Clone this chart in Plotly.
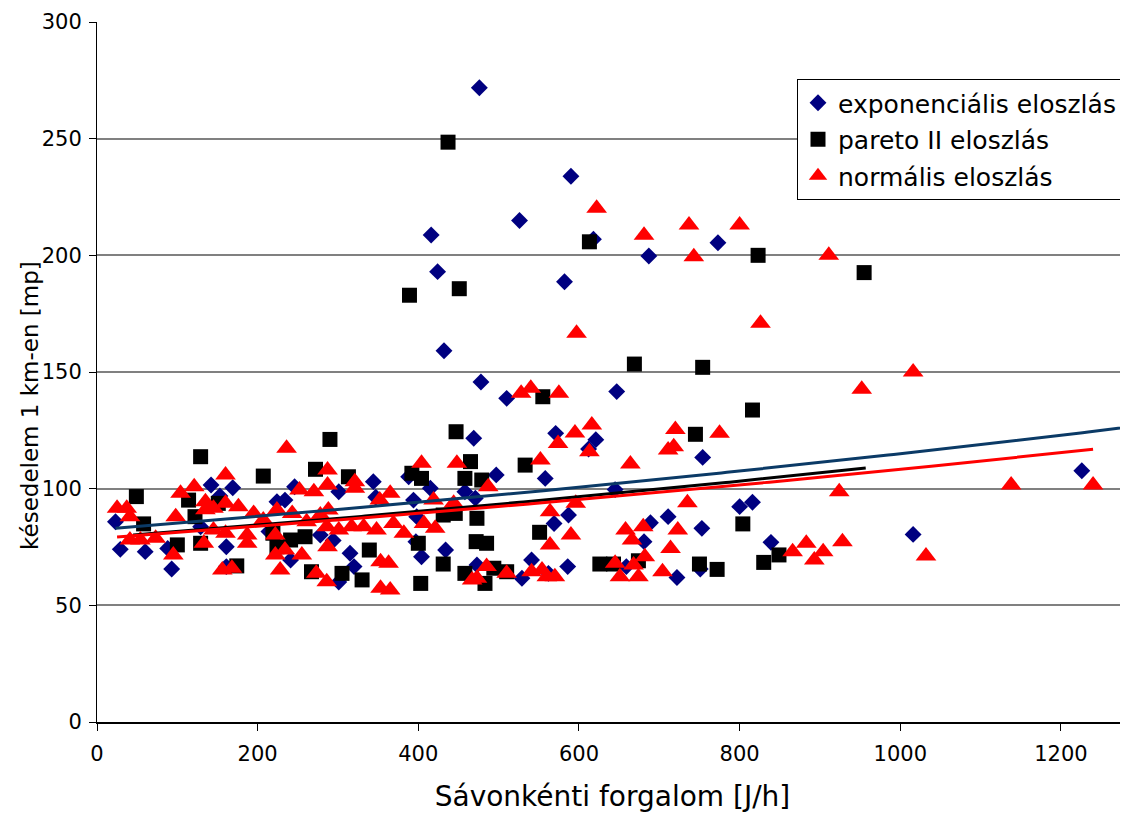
import numpy as np
import plotly.graph_objects as go

# ---------------- data ----------------
series_names = ["exponenciális eloszlás", "pareto II eloszlás", "normális eloszlás"]

exp_x = [23, 29, 60, 93, 88, 142, 169, 153, 161, 161, 224, 234, 246, 278, 301, 301, 241, 129, 214, 294,
         469, 571, 558, 497, 388, 344, 347, 415, 458, 471, 394, 398, 315, 320, 404, 434, 397, 473, 529, 541,
         586, 587, 569, 562,
         647, 612, 621, 754, 645, 800, 816, 689, 711, 753, 681, 839, 659, 751, 722,
         476, 590, 526, 416, 687, 424, 582, 432, 478, 510, 618, 773,
         1016, 1226]
exp_y = [85.8, 74.0, 73.0, 65.6, 74.4, 101.6, 100.4, 96.9, 75.1, 66.6, 94.4, 95.1, 100.8, 80.1, 60.0, 98.7, 69.4, 83.7, 81.6, 77.8,
         121.6, 123.7, 104.4, 105.9, 105.1, 103.0, 96.3, 100.2, 98.7, 95.9, 95.1, 88.0, 72.3, 66.6, 70.8, 73.7, 77.3, 67.3, 61.6, 69.4,
         66.6, 88.7, 85.1, 63.7,
         141.6, 117.0, 121.0, 113.4, 99.6, 92.3, 94.2, 85.4, 88.0, 83.0, 77.3, 77.0, 66.6, 65.6, 61.9,
         271.8, 233.9, 214.9, 208.7, 199.7, 193.0, 188.7, 159.1, 145.7, 138.7, 206.9, 205.4,
         80.4, 107.7]

par_x = [49, 58, 129, 114, 207, 100, 174, 129, 122, 151, 272, 290, 224, 241, 259, 267, 219,
         313, 392, 404, 465, 533, 458, 479, 473, 431, 446, 339, 400, 472, 485, 551, 305, 330, 403, 431, 458, 483, 494, 510, 447,
         669, 754, 816, 745, 804, 626, 643, 674, 750, 772, 830, 849,
         437, 389, 451, 555, 613, 823, 955]
par_y = [96.6, 84.9, 113.7, 95.1, 105.4, 75.9, 66.9, 76.6, 88.0, 93.7, 108.3, 121.1, 75.1, 78.0, 79.4, 64.4, 80.9,
         105.1, 106.6, 104.4, 111.6, 110.1, 104.4, 103.7, 87.3, 88.7, 89.4, 73.7, 76.6, 77.3, 76.6, 81.3, 63.7, 60.9, 59.4, 67.7, 63.7, 59.4, 65.9, 64.4, 124.4,
         153.4, 152.0, 133.7, 123.3, 84.9, 67.7, 67.7, 69.1, 67.7, 65.4, 68.4, 71.6,
         248.5, 182.9, 185.7, 139.4, 205.8, 200.0, 192.6]

norm_x = [25, 37, 41, 41, 54, 73, 104, 121, 98, 95, 135, 135, 145, 160, 160, 176, 133, 145, 160, 156,
          168, 187, 187, 195, 236, 252, 270, 287, 287, 286, 287, 286, 273, 228, 222, 222, 234, 224, 243, 255,
          261, 278, 301, 288, 207,
          404, 448, 552, 574, 595, 321, 321, 365, 352, 487, 419, 444, 564, 596, 590, 564, 317, 332, 348, 369,
          382, 407, 421, 353, 363, 353, 365, 467, 473, 485, 510, 541, 554, 560, 570,
          597, 826, 952, 616, 613, 720, 711, 718, 775, 664, 924, 735, 658, 680, 666, 723, 714, 682, 645, 668,
          651, 674, 704, 866, 883, 904, 893, 928,
          528, 540, 575, 622, 681, 737, 743, 800, 911, 1016, 1138, 1240, 1032]
norm_y = [91.6, 91.6, 88.0, 78.0, 78.0, 78.7, 98.0, 100.8, 88.0, 71.6, 94.4, 91.0, 91.6, 105.9, 93.7, 92.3, 76.6, 82.3, 80.9, 65.1,
          65.9, 80.1, 76.6, 89.4, 117.3, 99.4, 98.7, 108.0, 101.6, 83.7, 75.1, 60.1, 63.7, 65.1, 80.1, 71.6, 73.7, 90.9, 89.4, 71.6,
          85.8, 88.7, 82.3, 90.9, 86.6,
          110.9, 110.9, 112.3, 119.4, 123.9, 103.0, 100.2, 98.0, 95.1, 100.8, 95.1, 93.7, 90.1, 93.7, 80.1, 75.9, 83.7, 83.7, 82.3, 85.1,
          80.9, 85.1, 83.0, 68.7, 68.0, 57.3, 56.6, 60.9, 61.6, 66.6, 63.7, 64.4, 65.1, 62.3, 62.3,
          166.6, 170.9, 142.6, 127.3, 115.8, 125.4, 116.6, 118.0, 123.7, 110.6, 98.7, 94.0, 82.3, 83.7, 78.0, 82.3, 74.4, 70.8, 68.0, 67.3,
          62.3, 62.3, 64.4, 73.0, 76.6, 73.0, 69.4, 77.3,
          140.9, 143.0, 140.9, 220.2, 208.6, 213.0, 199.4, 213.0, 200.0, 150.0, 101.6, 101.6, 71.1]

# exponential trendlines y = a * exp(b * x), as displayed in the reference
trend_a = [82.4, 78.9, 78.7]
trend_b = [3.33e-4, 3.36e-4, 3.19e-4]
trend_x0 = [23, 45, 25]
trend_x1 = [1400, 957, 1240]

x_ticks = [0, 200, 400, 600, 800, 1000, 1200]
y_ticks = [0, 50, 100, 150, 200, 250, 300]

x_title = "Sávonkénti forgalom [J/h]"
y_title = "késedelem 1 km-en [mp]"

# ---------------- styling ----------------
FONT = "DejaVu Sans"
marker_colors = ["#000080", "#000000", "#FF0000"]
marker_symbols = ["diamond", "square", "triangle-up"]
marker_sizes = [13, 15, 18]
trend_colors = ["#0B3A66", "#000000", "#FF0000"]

fig = go.Figure()
xs = [exp_x, par_x, norm_x]
ys = [exp_y, par_y, norm_y]
for i in range(3):
    fig.add_trace(go.Scatter(
        x=xs[i], y=ys[i], mode="markers", name=series_names[i],
        legendgroup=str(i),
        marker=dict(symbol=marker_symbols[i], size=marker_sizes[i],
                    color=marker_colors[i], line=dict(width=0)),
    ))

for i in range(3):
    tx = np.linspace(trend_x0[i], trend_x1[i], 200)
    ty = trend_a[i] * np.exp(trend_b[i] * tx)
    fig.add_trace(go.Scatter(
        x=tx, y=ty, mode="lines", showlegend=False, hoverinfo="skip",
        line=dict(color=trend_colors[i], width=3),
    ))

# the page body has an 8px default margin, so the figure is laid out 8px smaller
fig.update_layout(
    width=1120, height=805,
    margin=dict(l=89, r=0, t=14, b=91, autoexpand=False),
    paper_bgcolor="white", plot_bgcolor="white",
    font=dict(family=FONT, color="black", size=21),
    showlegend=True,
    legend=dict(
        x=700 / 1031, y=643 / 700, xanchor="left", yanchor="top",
        bgcolor="white", bordercolor="black", borderwidth=1,
        font=dict(family=FONT, size=25, color="black"),
        traceorder="grouped", tracegroupgap=1,
        itemwidth=30,
    ),
    xaxis=dict(
        range=[0, 1283.5], tickvals=x_ticks, ticktext=[str(v) for v in x_ticks],
        showgrid=False, zeroline=False,
        showline=True, linecolor="black", linewidth=1.5,
        ticks="outside", ticklen=7, tickcolor="black", tickwidth=1,
        tickfont=dict(family=FONT, size=21),
        ticklabelstandoff=5,
        title=dict(text=x_title, font=dict(family=FONT, size=28), standoff=24),
    ),
    yaxis=dict(
        range=[0, 300], tickvals=y_ticks, ticktext=[str(v) for v in y_ticks],
        showgrid=True, gridcolor="#808080", gridwidth=1.5,
        zeroline=False,
        showline=True, linecolor="black", linewidth=1,
        ticks="outside", ticklen=7, tickcolor="black", tickwidth=1,
        tickfont=dict(family=FONT, size=21),
        ticklabelstandoff=3,
    ),
    annotations=[dict(
        text=y_title, textangle=-90, showarrow=False,
        xref="paper", yref="paper", x=-67 / 1031, y=316 / 700,
        xanchor="center", yanchor="middle",
        font=dict(family=FONT, size=23, color="black"),
    )],
)

fig.write_html("out.html")
